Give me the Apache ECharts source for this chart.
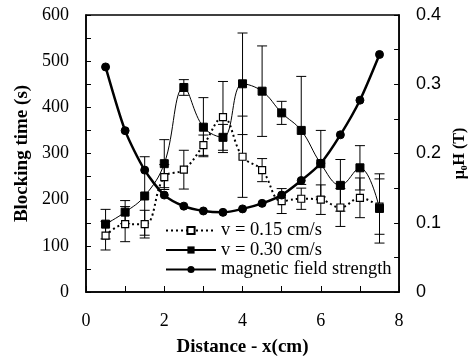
<!DOCTYPE html>
<html>
<head>
<meta charset="utf-8">
<script src="https://cdn.jsdelivr.net/npm/echarts@6/dist/echarts.min.js"></script>
<style>html,body{margin:0;padding:0;background:#fff;}#c{width:476px;height:362px;}</style>
</head>
<body>
<div id="c"></div>
<script>
var xs = [0.5, 1, 1.5, 2, 2.5, 3, 3.5, 4, 4.5, 5, 5.5, 6, 6.5, 7, 7.5];
var v015 = [122, 147, 147, 249, 265, 318, 379, 293, 264, 197, 202, 200, 183, 204, 185];
var v015err = [31, 38, 30, 27, 42, 22, 77, 88, 25, 27, 23, 32, 41, 43, 60];
var v030 = [147, 173, 208, 278, 443, 357, 335, 451, 435, 388, 350, 278, 231, 269, 181];
var v030err = [32, 25, 85, 52, 17, 64, 28, 110, 98, 25, 117, 72, 56, 48, 75];
var field = [0.325, 0.233, 0.176, 0.140, 0.124, 0.117, 0.115, 0.120, 0.128, 0.140, 0.161, 0.186, 0.227, 0.277, 0.343];
var leftTicks = [0, 100, 200, 300, 400, 500, 600];
var rightTicks = [0, 0.1, 0.2, 0.3, 0.4];
var xTicks = [0, 2, 4, 6, 8];
var names = ['v = 0.15 cm/s', 'v = 0.30 cm/s', 'magnetic field strength'];

function pairs(a) { return xs.map(function (x, i) { return [x, a[i]]; }); }
function errs(a, e) { return xs.map(function (x, i) { return [x, a[i] - e[i], a[i] + e[i]]; }); }

function errRender(params, api) {
  var x = api.value(0);
  var lo = api.coord([x, api.value(1)]);
  var hi = api.coord([x, api.value(2)]);
  var w = 5;
  var st = { stroke: '#000', lineWidth: 1 };
  return {
    type: 'group',
    children: [
      { type: 'line', shape: { x1: lo[0], y1: lo[1], x2: hi[0], y2: hi[1] }, style: st },
      { type: 'line', shape: { x1: lo[0] - w, y1: lo[1], x2: lo[0] + w, y2: lo[1] }, style: st },
      { type: 'line', shape: { x1: hi[0] - w, y1: hi[1], x2: hi[0] + w, y2: hi[1] }, style: st }
    ]
  };
}

var serif = '"Liberation Serif", "Times New Roman", serif';
var sans = '"Liberation Sans", Arial, sans-serif';

var chart = echarts.init(document.getElementById('c'), null, { renderer: 'canvas' });
chart.setOption({
  animation: false,
  backgroundColor: '#fff',
  grid: { left: 86, right: 73, top: 15, bottom: 69, show: true, borderColor: '#000', borderWidth: 1.5, backgroundColor: 'transparent' },
  legend: {
    data: names,
    orient: 'vertical',
    left: 165,
    top: 221,
    itemWidth: 50,
    itemHeight: 9,
    itemGap: 0.5,
    padding: 0,
    textStyle: { fontFamily: serif, fontSize: 18.5, color: '#000', lineHeight: 18, padding: [0, 0, 0, 0] }
  },
  xAxis: {
    type: 'value', min: xTicks[0], max: xTicks[xTicks.length - 1], interval: 2,
    name: 'Distance - x(cm)', nameLocation: 'middle', nameGap: 46,
    nameTextStyle: { fontFamily: serif, fontSize: 19, fontWeight: 'bold', color: '#000' },
    axisLine: { lineStyle: { color: '#000', width: 1.5 } },
    axisTick: { inside: true, length: 6, lineStyle: { color: '#000', width: 1 } },
    minorTick: { show: true, splitNumber: 2, length: 6, lineStyle: { color: '#000', width: 1 } },
    splitLine: { show: false },
    axisLabel: { fontFamily: serif, fontSize: 18, color: '#000', margin: 20 }
  },
  yAxis: [{
    type: 'value', min: leftTicks[0], max: leftTicks[leftTicks.length - 1], interval: 100,
    name: 'Blocking time (s)', nameLocation: 'middle', nameGap: 49,
    nameTextStyle: { fontFamily: serif, fontSize: 19, fontWeight: 'bold', color: '#000' },
    axisLine: { show: true, lineStyle: { color: '#000', width: 1.5 } },
    axisTick: { inside: true, length: 5, lineStyle: { color: '#000', width: 1 } },
    minorTick: { show: true, splitNumber: 2, length: 5, lineStyle: { color: '#000', width: 1 } },
    splitLine: { show: false },
    axisLabel: { fontFamily: serif, fontSize: 18, color: '#000', margin: 17 }
  }, {
    type: 'value', min: rightTicks[0], max: rightTicks[rightTicks.length - 1], interval: 0.1,
    position: 'right',
    name: 'μ₀H (T)', nameLocation: 'middle', nameGap: 41, nameRotate: 90,
    nameTextStyle: { fontFamily: serif, fontSize: 16, fontWeight: 'bold', color: '#000' },
    axisLine: { show: true, lineStyle: { color: '#000', width: 1.5 } },
    axisTick: { inside: true, length: 5, lineStyle: { color: '#000', width: 1 } },
    minorTick: { show: true, splitNumber: 2, length: 5, lineStyle: { color: '#000', width: 1 } },
    splitLine: { show: false },
    axisLabel: { fontFamily: sans, fontSize: 18, color: '#000', margin: 17 }
  }],
  series: [
    { type: 'custom', name: 'err015', renderItem: errRender, data: errs(v015, v015err), encode: { x: 0, y: [1, 2] }, z: 1, silent: true },
    { type: 'custom', name: 'err030', renderItem: errRender, data: errs(v030, v030err), encode: { x: 0, y: [1, 2] }, z: 1, silent: true },
    {
      type: 'line', name: names[0], data: pairs(v015), smooth: 0.4,
      symbol: 'rect', symbolSize: 7, showSymbol: true,
      itemStyle: { color: '#fff', borderColor: '#000', borderWidth: 1.2 },
      lineStyle: { color: '#000', width: 2, type: [2, 3] }, z: 3
    },
    {
      type: 'line', name: names[1], data: pairs(v030), smooth: 0.4,
      symbol: 'rect', symbolSize: 8,
      itemStyle: { color: '#000', borderColor: '#000' },
      lineStyle: { color: '#000', width: 1 }, z: 4
    },
    {
      type: 'line', name: names[2], yAxisIndex: 1, data: pairs(field), smooth: 0.25,
      symbol: 'circle', symbolSize: 8,
      itemStyle: { color: '#000', borderColor: '#000' },
      lineStyle: { color: '#000', width: 2.5 }, z: 5
    }
  ]
});
</script>
</body>
</html>
